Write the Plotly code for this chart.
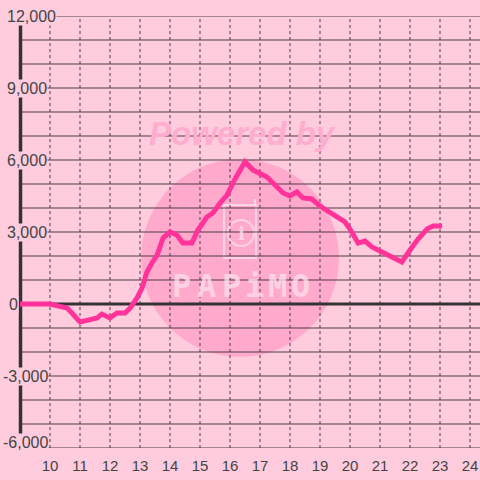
import plotly.graph_objects as go

# ---- data ----
hours = [9.0, 10.0, 10.33, 10.57, 10.73, 11.0, 11.27, 11.57, 11.73, 12.0, 12.23, 12.5, 12.67,
         12.9, 13.07, 13.23, 13.4, 13.57, 13.77, 14.0, 14.23, 14.43, 14.73, 14.93, 15.23,
         15.43, 15.67, 15.9, 16.17, 16.5, 16.77, 17.23, 17.5, 17.77, 18.0, 18.23, 18.43,
         18.73, 19.0, 19.33, 19.67, 19.83, 20.0, 20.27, 20.5, 20.73, 21.0, 21.33, 21.73,
         22.0, 22.27, 22.57, 22.77, 23.07]
values = [0, 0, -100, -170, -375, -750, -670, -580, -420, -580, -375, -375, -170,
          250, 670, 1330, 1710, 2040, 2750, 3000, 2875, 2540, 2540, 3080, 3625,
          3790, 4210, 4540, 5210, 5920, 5580, 5290, 4960, 4625, 4500, 4670, 4420,
          4375, 4080, 3830, 3540, 3420, 3125, 2540, 2625, 2375, 2210, 2000, 1750,
          2250, 2710, 3125, 3250, 3250]
x_ticks = list(range(10, 25))
y_ticks = [12000, 9000, 6000, 3000, 0, -3000, -6000]
y_tick_labels = ["12,000", "9,000", "6,000", "3,000", "0", "-3,000", "-6,000"]

BG = "#FFCCDD"
GRID = "#4d3a46"
TXT = "#444444"

# pixel -> data helpers (plot area spans x 0..480, y 16..448; hour 9 at x=20)
def px(x):
    return 9 + (x - 20) / 30.0

def py(y):
    return (304 - y) / 0.024

fig = go.Figure()

fig.add_trace(go.Scatter(x=hours, y=values, mode="lines",
                         line=dict(color="#FF3399", width=5),
                         hoverinfo="skip", showlegend=False))

shapes = []
# watermark circle
cx, cy, r = 240, 258, 99
shapes.append(dict(type="circle", xref="x", yref="y", layer="below",
                   x0=px(cx - r), x1=px(cx + r), y0=py(cy + r), y1=py(cy - r),
                   fillcolor="#FFAACC", line=dict(width=0)))
# logo phone outline
logo_col = "rgba(255,222,234,0.8)"
shapes.append(dict(type="rect", xref="x", yref="y", layer="below",
                   x0=px(224), x1=px(256), y0=py(258), y1=py(205),
                   line=dict(color=logo_col, width=2)))
shapes.append(dict(type="line", xref="x", yref="y", layer="below",
                   x0=px(255), x1=px(255), y0=py(205), y1=py(199),
                   line=dict(color=logo_col, width=2)))
shapes.append(dict(type="circle", xref="x", yref="y", layer="below",
                   x0=px(228), x1=px(254), y0=py(246), y1=py(220),
                   line=dict(color=logo_col, width=2)))
# vertical dotted grid
for t in x_ticks:
    shapes.append(dict(type="line", xref="x", yref="y", layer="below",
                       x0=t, x1=t, y0=-6000, y1=12000,
                       line=dict(color=GRID, width=1, dash="dot")))
# horizontal grid every 1000
for v in range(-6000, 12001, 1000):
    shapes.append(dict(type="line", xref="x", yref="y", layer="below",
                       x0=9, x1=24.4, y0=v, y1=v,
                       line=dict(color=GRID, width=1.2)))
# zero line
shapes.append(dict(type="line", xref="x", yref="y", layer="below",
                   x0=9, x1=24.4, y0=0, y1=0,
                   line=dict(color="#333333", width=3)))
# y axis line
shapes.append(dict(type="line", xref="x", yref="y", layer="below",
                   x0=px(20.5), x1=px(20.5), y0=-6000, y1=12000,
                   line=dict(color="#333333", width=3.5)))

annotations = []
annotations.append(dict(x=px(242), y=py(133), xref="x", yref="y", text="<b><i>Powered by</i></b>",
                        showarrow=False, font=dict(family="Liberation Sans", size=33, color="#FFADCE")))
annotations.append(dict(x=px(241), y=py(233), xref="x", yref="y", text="<b>i</b>",
                        showarrow=False, font=dict(family="DejaVu Serif", size=18, color=logo_col)))
letters = ["P", "A", "P", "i", "M", "O"]
lx = [181, 206, 231, 254, 277, 300]
for ch, xx in zip(letters, lx):
    annotations.append(dict(x=px(xx), y=py(286), xref="x", yref="y", text="<b>" + ch + "</b>",
                            showarrow=False,
                            font=dict(family="DejaVu Sans Mono", size=32, color=logo_col)))
# y tick labels with background to cut the axis
label_left = [6, 6, 6, 6, 8, 2, 2]
label_dy = [0, 0, 0, 0, 0, 0, 250]
for v, lab, lft, dy in zip(y_ticks, y_tick_labels, label_left, label_dy):
    annotations.append(dict(x=px(lft), y=v + dy, xref="x", yref="y", text=lab,
                            xanchor="left", yanchor="middle", showarrow=False,
                            bgcolor=BG, borderpad=0,
                            font=dict(family="Liberation Sans", size=16, color=TXT)))

fig.update_layout(
    width=480, height=480,
    margin=dict(l=0, r=0, t=16, b=32),
    paper_bgcolor=BG, plot_bgcolor=BG,
    shapes=shapes, annotations=annotations,
    xaxis=dict(range=[px(0), px(480)], tickvals=x_ticks, ticktext=[str(t) for t in x_ticks],
               showgrid=False, zeroline=False, showline=False,
               ticks="outside", ticklen=4, tickcolor="rgba(0,0,0,0)",
               tickfont=dict(family="Liberation Sans", size=15, color=TXT), fixedrange=True),
    yaxis=dict(range=[-6000, 12000], showgrid=False, zeroline=False, showline=False,
               showticklabels=False, fixedrange=True),
    showlegend=False,
)

fig.write_html("out.html", config={"displayModeBar": False},
               post_script="document.body.style.margin='0px';document.body.style.overflow='hidden';")
